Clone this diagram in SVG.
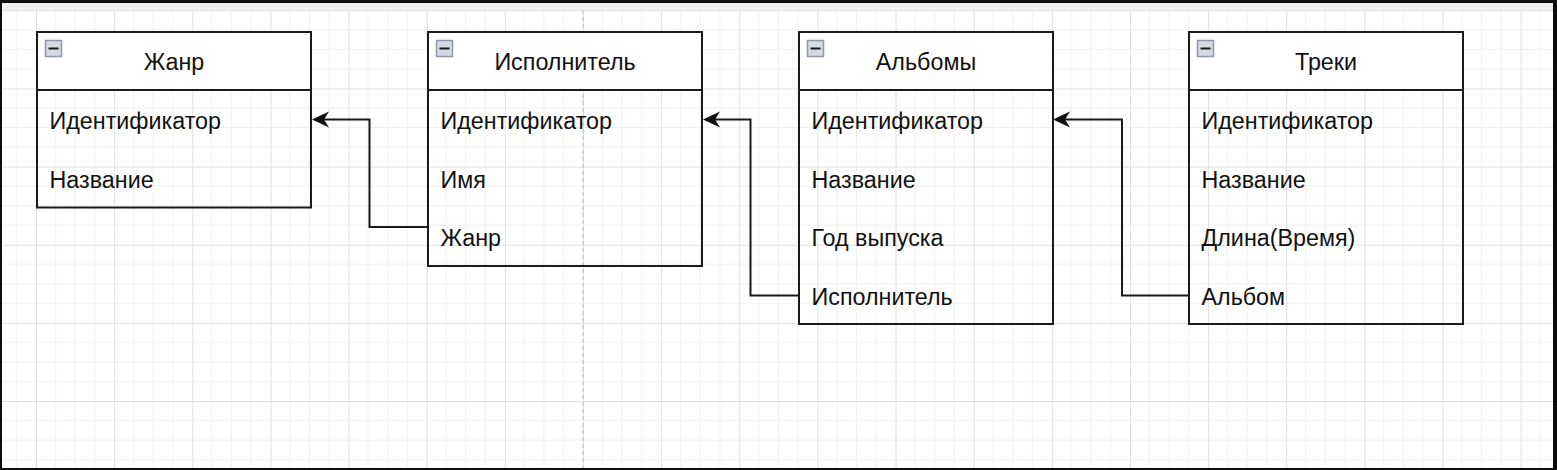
<svg xmlns="http://www.w3.org/2000/svg" width="1557" height="470" viewBox="0 0 1557 470">
  <style>
    .box { fill: none; stroke: #1a1a1a; stroke-width: 2; }
    .head { fill: #ffffff; stroke: #1a1a1a; stroke-width: 2; }
    .title { font-family: "Liberation Sans", Arial, Helvetica, sans-serif; font-size: 23.3px; fill: #111111; text-anchor: middle; }
    .field { font-family: "Liberation Sans", Arial, Helvetica, sans-serif; font-size: 23.3px; fill: #111111; }
    .icon { fill: #d5d9e1; stroke: #8f98aa; stroke-width: 1.5; }
    .minus { stroke: #1a1a1a; stroke-width: 2; }
    .edge { fill: none; stroke: #1a1a1a; stroke-width: 2; }
  </style>
  <defs>
    <pattern id="grid" patternUnits="userSpaceOnUse" x="36" y="10.3" width="78.14" height="78.14">
      <path d="M19.535,0V78.14M39.07,0V78.14M58.605,0V78.14M0,19.535H78.14M0,39.07H78.14M0,58.605H78.14" stroke="#f1f1f1" stroke-width="1" fill="none"/>
      <path d="M0.5,0V78.14M0,0.5H78.14" stroke="#e0e0e0" stroke-width="1" fill="none"/>
    </pattern>
    <marker id="arrow" viewBox="0 0 17 17" markerWidth="17" markerHeight="17" markerUnits="userSpaceOnUse" refX="5" refY="8.5" orient="auto">
      <path d="M17,8.5 L0,0.5 L5,8.5 L0,16.5 Z" fill="#111111"/>
    </marker>
  </defs>

  <!-- frame and canvas -->
  <rect x="0" y="0" width="1557" height="470" fill="#0d0d0d"/>
  <rect x="2" y="3" width="1551" height="465" fill="#efefef"/>
  <rect x="2" y="10" width="1551" height="458" fill="#ffffff"/>
  <rect x="2" y="10" width="1551" height="458" fill="url(#grid)"/>
  <line x1="583" y1="10" x2="583" y2="468" stroke="#c4c4c4" stroke-width="1.2" stroke-dasharray="4 3"/>

  <g id="genre">
    <rect class="head" x="37" y="32" width="274" height="58"/>
    <rect class="box" x="37" y="32" width="274" height="175.5"/>
    <rect class="icon" x="45.5" y="40.5" width="16" height="16"/>
    <line class="minus" x1="48.5" y1="48.5" x2="58.5" y2="48.5"/>
    <text class="title" x="174" y="70">Жанр</text>
    <text class="field" x="49.5" y="129">Идентификатор</text>
    <text class="field" x="49.5" y="187.5">Название</text>
  </g>

  <g id="artist">
    <rect class="head" x="428" y="32" width="274" height="58"/>
    <rect class="box" x="428" y="32" width="274" height="234"/>
    <rect class="icon" x="436.5" y="40.5" width="16" height="16"/>
    <line class="minus" x1="439.5" y1="48.5" x2="449.5" y2="48.5"/>
    <text class="title" x="565" y="70">Исполнитель</text>
    <text class="field" x="440.5" y="129">Идентификатор</text>
    <text class="field" x="440.5" y="187.5">Имя</text>
    <text class="field" x="440.5" y="246">Жанр</text>
  </g>

  <g id="albums">
    <rect class="head" x="799" y="32" width="254" height="58"/>
    <rect class="box" x="799" y="32" width="254" height="292"/>
    <rect class="icon" x="807.5" y="40.5" width="16" height="16"/>
    <line class="minus" x1="810.5" y1="48.5" x2="820.5" y2="48.5"/>
    <text class="title" x="926" y="70">Альбомы</text>
    <text class="field" x="811.5" y="129">Идентификатор</text>
    <text class="field" x="811.5" y="187.5">Название</text>
    <text class="field" x="811.5" y="246">Год выпуска</text>
    <text class="field" x="811.5" y="304.5">Исполнитель</text>
  </g>

  <g id="tracks">
    <rect class="head" x="1189" y="32" width="274" height="58"/>
    <rect class="box" x="1189" y="32" width="274" height="292"/>
    <rect class="icon" x="1197.5" y="40.5" width="16" height="16"/>
    <line class="minus" x1="1200.5" y1="48.5" x2="1210.5" y2="48.5"/>
    <text class="title" x="1326" y="70">Треки</text>
    <text class="field" x="1201.5" y="129">Идентификатор</text>
    <text class="field" x="1201.5" y="187.5">Название</text>
    <text class="field" x="1201.5" y="246">Длина(Время)</text>
    <text class="field" x="1201.5" y="304.5">Альбом</text>
  </g>

  <g id="connectors">
    <path class="edge" d="M428,227 H369.5 V119.5 H324" marker-end="url(#arrow)"/>
    <path class="edge" d="M799,295.5 H750.5 V119.5 H715" marker-end="url(#arrow)"/>
    <path class="edge" d="M1189,295.5 H1122 V119.5 H1065" marker-end="url(#arrow)"/>
  </g>
</svg>
